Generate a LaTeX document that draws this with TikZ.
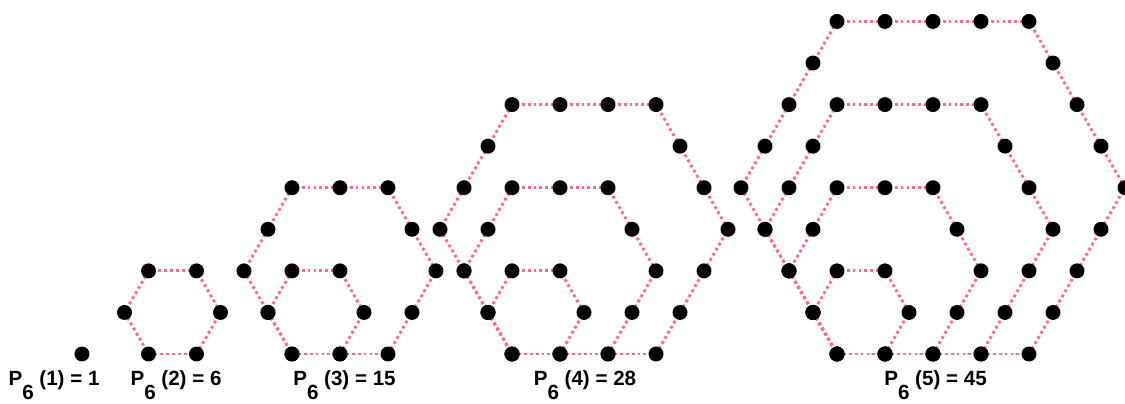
\documentclass[tikz,border=0pt]{standalone}
\usepackage{fontspec}
\setmainfont{Liberation Sans}
\usepackage{xcolor}
\usepackage{tikz}
\definecolor{hexpink}{RGB}{255,105,140}
\newcommand{\psixlabel}[2]{P\raisebox{-0.72em}{6} (#1) = #2}

\begin{document}
\begin{tikzpicture}[
  ring/.style={draw=hexpink, line width=1.7pt, dash pattern=on 1.7pt off 1.8pt},
  lbl/.style={font=\fontsize{12.2}{14}\selectfont\bfseries, anchor=base},
]
  \useasboundingbox (0,0) rectangle (23.4375,8.396);

  % ---- P6(1): a single dot ----
  \fill (1.708,1.021) circle (0.156);

  % ---- dotted rings, one unit segment at a time: anchor x / largest ring ----
  \foreach \ax/\m in {3.094/1, 6.083/2, 10.667/3, 17.4375/4}
    \foreach \k in {1,...,\m}
      \foreach \a in {0,60,...,300}
        \foreach \j in {1,...,\k}
          \draw[ring]
            ({\ax+0.5*\k+\k*cos(\a)+(\j-1)*cos(\a+120)},{1.021+0.866*\k+\k*sin(\a)+(\j-1)*sin(\a+120)})
            -- ({\ax+0.5*\k+\k*cos(\a)+\j*cos(\a+120)},{1.021+0.866*\k+\k*sin(\a)+\j*sin(\a+120)});

  % ---- dots along every side, spacing 1 ----
  \foreach \ax/\m in {3.094/1, 6.083/2, 10.667/3, 17.4375/4}
    \foreach \k in {1,...,\m}
      \foreach \a in {0,60,...,300}
        \foreach \j in {1,...,\k}
          \fill[shift={({\ax+0.5*\k},{1.021+0.866*\k})}, shift={(\a+120:\j)}]
            (\a:\k) circle (0.156);

  % ---- labels ----
  \node[lbl] (lab1) at (1.125,0.375) {\psixlabel{1}{1}};
  \node[lbl] (lab2) at (3.667,0.375) {\psixlabel{2}{6}};
  \node[lbl] (lab3) at (7.177,0.375) {\psixlabel{3}{15}};
  \node[lbl] (lab4) at (12.1875,0.375) {\psixlabel{4}{28}};
  \node[lbl] (lab5) at (19.49,0.375) {\psixlabel{5}{45}};
\end{tikzpicture}
\end{document}
